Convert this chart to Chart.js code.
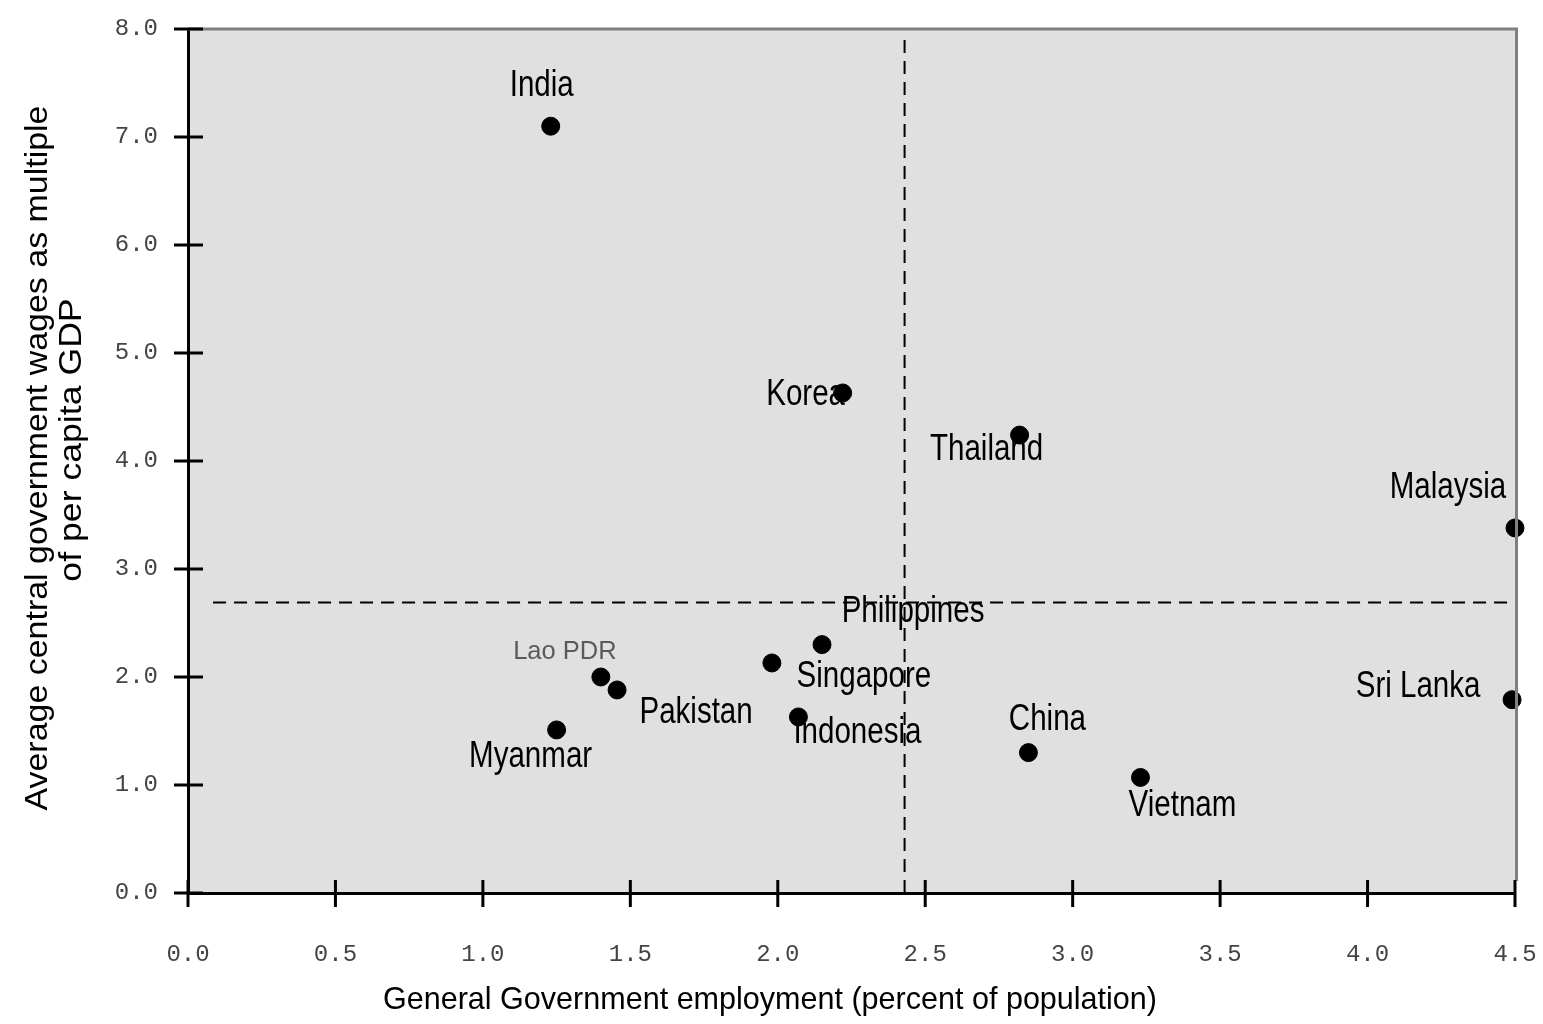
<!DOCTYPE html>
<html>
<head>
<meta charset="utf-8">
<script src="https://cdn.jsdelivr.net/npm/chart.js@4.4.1/dist/chart.umd.min.js"></script>
<style>
  html, body { margin: 0; padding: 0; background: #ffffff; }
</style>
</head>
<body>
<canvas id="c" width="1543" height="1024"></canvas>
<script>
// ---- data ----
const countries = ['India', 'Korea', 'Thailand', 'Malaysia', 'Sri Lanka', 'Philippines', 'Singapore', 'Lao PDR', 'Pakistan', 'Myanmar', 'Indonesia', 'China', 'Vietnam'];
const employment = [1.23, 2.22, 2.82, 4.50, 4.49, 2.15, 1.98, 1.40, 1.455, 1.25, 2.07, 2.85, 3.23];
const wageMultiple = [7.10, 4.63, 4.24, 3.38, 1.79, 2.30, 2.13, 2.00, 1.88, 1.51, 1.63, 1.30, 1.07];
const avgEmployment = 2.43;
const avgWageMultiple = 2.69;
const xTicks = [0, 0.5, 1.0, 1.5, 2.0, 2.5, 3.0, 3.5, 4.0, 4.5];
const yTicks = [0, 1, 2, 3, 4, 5, 6, 7, 8];
const xTitle = 'General Government employment (percent of population)';
const yTitle = ['Average central government wages as multiple', 'of per capita GDP'];

// ---- label placement (style only) ----
const labelOffsets = {
  'India': [-9, -40], 'Korea': [-37, 2], 'Thailand': [-33, 15], 'Malaysia': [-67, -40],
  'Sri Lanka': [-94, -13], 'Philippines': [91, -33], 'Singapore': [92, 14], 'Lao PDR': [-36, -25],
  'Pakistan': [79, 23], 'Myanmar': [-26, 27], 'Indonesia': [59, 16], 'China': [19, -33], 'Vietnam': [42, 29]
};
const SANS = '"Liberation Sans", Arial, sans-serif';

function drawScaledText(ctx, text, x, y, size, scaleX, color, rotation) {
  ctx.save();
  ctx.translate(x, y);
  if (rotation) ctx.rotate(rotation);
  ctx.scale(scaleX, 1);
  ctx.font = size + 'px ' + SANS;
  ctx.fillStyle = color;
  ctx.textAlign = 'center';
  ctx.textBaseline = 'middle';
  ctx.fillText(text, 0, 0);
  ctx.restore();
}
function naturalWidth(ctx, text, size) {
  ctx.save();
  ctx.font = size + 'px ' + SANS;
  const w = ctx.measureText(text).width;
  ctx.restore();
  return w;
}

const points = countries.map((c, i) => ({ x: employment[i], y: wageMultiple[i] }));

const framePlugin = {
  id: 'frame',
  beforeDraw(chart) {
    const { ctx, chartArea: a } = chart;
    ctx.save();
    ctx.fillStyle = '#e0e0e0';
    ctx.fillRect(a.left, a.top, a.right - a.left, a.bottom - a.top);
    ctx.restore();
  },
  afterDatasetsDraw(chart) {
    const { ctx } = chart;
    const meta = chart.getDatasetMeta(2);
    meta.data.forEach((el, i) => {
      const name = countries[i];
      const off = labelOffsets[name] || [0, -25];
      if (name === 'Lao PDR') {
        drawScaledText(ctx, name, el.x + off[0], el.y + off[1], 26, 0.98, '#5a5a5a');
      } else {
        drawScaledText(ctx, name, el.x + off[0], el.y + off[1], 36, 0.82, '#000000');
      }
    });
  },
  afterDraw(chart) {
    const { ctx, chartArea: a, scales } = chart;
    ctx.save();
    // gray top and right borders
    ctx.strokeStyle = '#808080';
    ctx.lineWidth = 3;
    ctx.beginPath();
    ctx.moveTo(a.left, a.top);
    ctx.lineTo(a.right + 1.5, a.top);
    ctx.lineTo(a.right + 1.5, a.bottom - 12);
    ctx.stroke();
    // crossing tick marks
    ctx.strokeStyle = '#000';
    ctx.lineWidth = 3;
    ctx.beginPath();
    xTicks.forEach(v => {
      const px = scales.x.getPixelForValue(v);
      ctx.moveTo(px, a.bottom - 13);
      ctx.lineTo(px, a.bottom + 14);
    });
    yTicks.forEach(v => {
      const py = scales.y.getPixelForValue(v);
      ctx.moveTo(a.left - 14, py);
      ctx.lineTo(a.left + 15, py);
    });
    ctx.stroke();
    ctx.restore();
    // axis titles
    const xs = 774 / naturalWidth(ctx, xTitle, 32);
    drawScaledText(ctx, xTitle, 770, 1000, 32, xs, '#000000');
    const ys = 705 / naturalWidth(ctx, yTitle[0], 32);
    drawScaledText(ctx, yTitle[0], 38, 458, 32, ys, '#000000', -Math.PI / 2);
    drawScaledText(ctx, yTitle[1], 72, 440, 32, ys * 1.05, '#000000', -Math.PI / 2);
  }
};

function noPad(s) {
  s.paddingLeft = 0; s.paddingRight = 0; s.paddingTop = 0; s.paddingBottom = 0;
}

new Chart(document.getElementById('c'), {
  type: 'scatter',
  data: {
    datasets: [
      {
        type: 'line',
        data: [{ x: 0.085, y: avgWageMultiple }, { x: 4.5, y: avgWageMultiple }],
        borderColor: '#000', borderWidth: 2, borderDash: [13, 8],
        pointRadius: 0, fill: false, clip: false
      },
      {
        type: 'line',
        data: [{ x: avgEmployment, y: 0 }, { x: avgEmployment, y: 7.94 }],
        borderColor: '#000', borderWidth: 2, borderDash: [13, 8],
        pointRadius: 0, fill: false, clip: false
      },
      {
        data: points,
        backgroundColor: '#000', borderColor: '#000',
        pointStyle: 'circle', pointRadius: 9, pointHoverRadius: 9,
        clip: false
      }
    ]
  },
  options: {
    responsive: false,
    animation: false,
    events: [],
    layout: { autoPadding: false, padding: { top: 29, right: 28, left: 0, bottom: 0 } },
    plugins: { legend: { display: false }, tooltip: { enabled: false }, title: { display: false } },
    scales: {
      x: {
        type: 'linear', min: 0, max: 4.5,
        afterBuildTicks: s => { s.ticks = xTicks.map(v => ({ value: v })); },
        afterFit: s => { s.height = 131; noPad(s); },
        grid: { display: true, drawOnChartArea: false, drawTicks: false },
        border: { display: true, color: '#000', width: 3 },
        ticks: {
          padding: 47, maxRotation: 0, autoSkip: false,
          font: { family: '"Liberation Mono", "DejaVu Sans Mono", monospace', size: 24 },
          color: '#444',
          callback: v => Number(v).toFixed(1)
        }
      },
      y: {
        type: 'linear', min: 0, max: 8,
        afterBuildTicks: s => { s.ticks = yTicks.map(v => ({ value: v })); },
        afterFit: s => { s.width = 188; noPad(s); },
        grid: { display: true, drawOnChartArea: false, drawTicks: false },
        border: { display: true, color: '#000', width: 3 },
        ticks: {
          padding: 30, autoSkip: false,
          font: { family: '"Liberation Mono", "DejaVu Sans Mono", monospace', size: 24 },
          color: '#444',
          callback: v => Number(v).toFixed(1)
        }
      }
    }
  },
  plugins: [framePlugin]
});
</script>
</body>
</html>
